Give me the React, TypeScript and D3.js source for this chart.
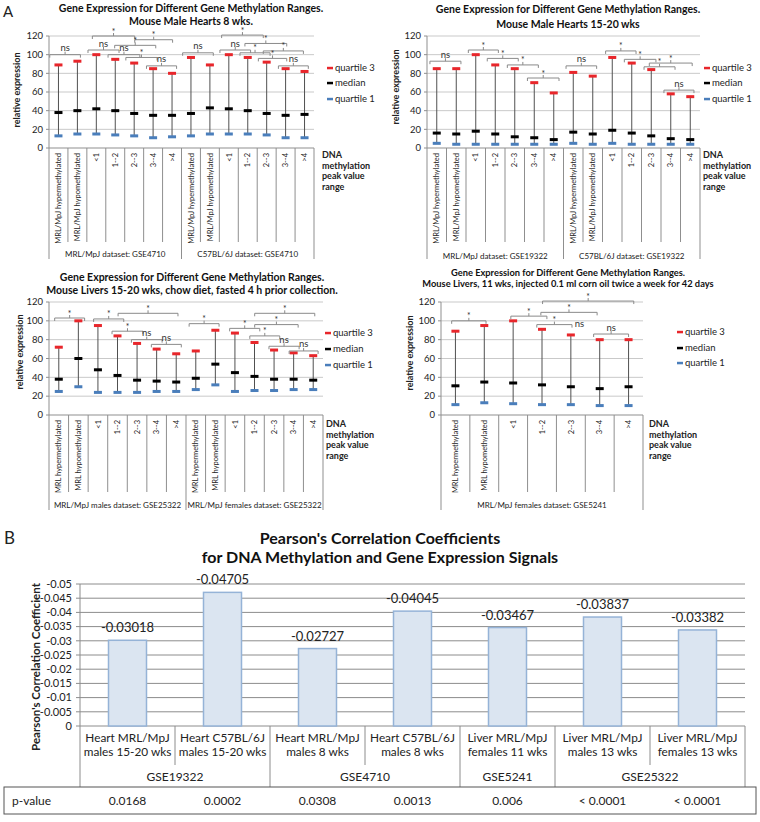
import React from "react";
import * as d3 from "d3";

const FONT = "Lato, 'Open Sans', 'Liberation Sans', sans-serif";

// ---------- Panel A data ----------
const rangeCats = ["<1", "1--2", "2--3", "3--4", ">4"];
const mpjCats = ["MRL/MpJ hypermethylated", "MRL/MpJ hypomethylated", ...rangeCats];
const mrlCats = ["MRL hypermethylated", "MRL hypomethylated", ...rangeCats];

type Sig = [number, number, number, string];

// Mouse Male Hearts 8 wks
const heart8Categories = [...mpjCats, ...mpjCats];
const heart8Groups = ["MRL/MpJ  dataset: GSE4710", "C57BL/6J dataset: GSE4710"];
const heart8GroupSizes = [7, 7];
const heart8Q3 = [89, 93, 100, 95, 91, 85, 80, 97, 89, 100, 97, 92, 85, 82];
const heart8Median = [38, 40, 42, 40, 37, 35, 35, 37, 43, 42, 40, 37, 35, 36];
const heart8Q1 = [13, 15, 15, 14, 13, 11, 12, 13, 15, 15, 15, 14, 11, 11];
const heart8Sig: Sig[] = [
  [0.04, 1.66, 100, "ns"],
  [2.06, 3.7, 105, "ns"],
  [2.29, 4.53, 120, "*"],
  [4.53, 6.53, 116, "*"],
  [3.47, 5.64, 110, "*"],
  [3.12, 4.8, 100, "ns"],
  [4.06, 5.71, 97, "*"],
  [5.15, 6.74, 88, "ns"],
  [7.06, 8.68, 102, "ns"],
  [9.03, 10.65, 105, "ns"],
  [9.12, 11.32, 121, "*"],
  [10.35, 12.56, 112, "*"],
  [10.09, 11.68, 102, "*"],
  [11.32, 13.44, 104, "*"],
  [11.06, 12.56, 96, "*"],
  [12.12, 13.7, 88, "ns"],
];

// Mouse Male Hearts 15-20 wks
const heart15Categories = [...mpjCats, ...mpjCats];
const heart15Groups = ["MRL/MpJ dataset: GSE19322", "C57BL/6J dataset: GSE19322"];
const heart15GroupSizes = [7, 7];
const heart15Q3 = [85, 85, 100, 89, 85, 70, 59, 81, 77, 97, 91, 84, 58, 55];
const heart15Median = [16, 15, 18, 15, 12, 11, 9, 17, 15, 19, 16, 13, 10, 9];
const heart15Q1 = [5, 4, 4, 4, 4, 4, 4, 5, 4, 5, 4, 4, 4, 4];
const heart15Sig: Sig[] = [
  [0.15, 1.74, 93, "ns"],
  [2.12, 3.66, 105, "*"],
  [3.09, 4.68, 96, "*"],
  [4.12, 5.71, 89, "*"],
  [5.15, 6.77, 75, "*"],
  [7.13, 8.7, 88, "ns"],
  [9.16, 10.72, 104, "*"],
  [10.12, 11.74, 95, "*"],
  [11.13, 12.72, 87, "*"],
  [11.4, 13.6, 91, "*"],
  [12.15, 13.69, 62, "ns"],
];

// Mouse Livers 15-20 wks
const liver15Categories = [...mrlCats, ...mrlCats];
const liver15Groups = ["MRL/MpJ males dataset: GSE25322", "MRL/MpJ females dataset: GSE25322"];
const liver15GroupSizes = [7, 7];
const liver15Q3 = [72, 100, 95, 84, 76, 70, 65, 68, 90, 87, 77, 69, 66, 63];
const liver15Median = [38, 60, 48, 42, 37, 36, 35, 39, 54, 45, 41, 38, 38, 37];
const liver15Q1 = [25, 30, 24, 24, 24, 25, 25, 27, 32, 25, 26, 26, 27, 27];
const liver15Sig: Sig[] = [
  [0.29, 1.82, 103, "*"],
  [2.28, 3.82, 102, "*"],
  [3.53, 6.59, 108, "*"],
  [3.22, 4.8, 89, "*"],
  [4.21, 5.78, 80, "ns"],
  [5.23, 6.76, 75, "ns"],
  [7.16, 8.69, 97, "*"],
  [10.51, 13.58, 108, "*"],
  [10.51, 12.73, 96, "*"],
  [9.23, 10.77, 92, "*"],
  [10.26, 11.79, 84, "*"],
  [11.24, 12.78, 73, "ns"],
  [12.27, 13.75, 68, "ns"],
];

// Mouse Livers 11 wks
const liver11Categories = [...mrlCats];
const liver11Groups = ["MRL/MpJ females dataset: GSE5241"];
const liver11GroupSizes = [7];
const liver11Q3 = [89, 95, 100, 91, 85, 80, 80];
const liver11Median = [31, 35, 34, 32, 30, 28, 30];
const liver11Q1 = [11, 13, 12, 11, 11, 10, 10];
const liver11Sig: Sig[] = [
  [0.37, 1.56, 100, "*"],
  [2.42, 3.67, 105, "*"],
  [3.46, 5.41, 109, "*"],
  [3.52, 6.68, 121, "*"],
  [3.32, 4.54, 96, "*"],
  [4.8, 4.8, 97, "ns"],
  [5.29, 6.5, 86, "ns"],
];

const legendLabels = ["quartile 3", "median", "quartile 1"];
const dnaLines = ["DNA", "methylation", "peak value", "range"];

// ---------- Panel B data ----------
const corrLine1 = ["Heart MRL/MpJ", "Heart C57BL/6J", "Heart MRL/MpJ", "Heart C57BL/6J", "Liver MRL/MpJ", "Liver MRL/MpJ", "Liver MRL/MpJ"];
const corrLine2 = ["males 15-20 wks", "males 15-20 wks", "males 8 wks", "males 8 wks", "females 11 wks", "males 13 wks", "females 13 wks"];
const corrValues = [-0.03018, -0.04705, -0.02727, -0.04045, -0.03467, -0.03837, -0.03382];
const corrDatasets = ["GSE19322", "GSE4710", "GSE5241", "GSE25322"];
const corrDatasetSizes = [2, 2, 1, 2];
const corrPValues = ["0.0168", "0.0002", "0.0308", "0.0013", "0.006", "< 0.0001", "< 0.0001"];
const corrTicks = d3.range(0, 11).map((i) => -i * 0.005);

const RED = "#e8262b";
const BLACK = "#000000";
const BLUE = "#4a7ebb";
const GRID = "#c9c9c9";
const AXIS = "#8f8f8f";

type PanelProps = {
  categories: string[];
  groups: string[];
  groupSizes: number[];
  q1: number[];
  median: number[];
  q3: number[];
  sig: Sig[];
  left: number;
  right: number;
  top: number;
  bottom: number;
  title: string[];
  titleX: number;
  titleY: number[];
  titleSize: number;
  legendX: number;
  legendY: number[];
  dnaX: number;
  dnaY: number;
  labelTop: number;
  innerSepBottom: number;
  groupSepBottom: number;
  groupLabelY: number;
  yLabelX: number;
  yLabelY: number;
};

function Panel(p: PanelProps) {
  const n = p.categories.length;
  const x = d3.scaleLinear().domain([0, n]).range([p.left, p.right]);
  const y = d3.scaleLinear().domain([0, 120]).range([p.bottom, p.top]);
  const ticks = d3.range(0, 121, 20);
  const ends2 = Array.from(d3.cumsum(p.groupSizes));
  const starts = [0, ...ends2.slice(0, -1)];
  const boundarySet = new Set<number>([0, ...ends2]);
  const cx = (i: number) => x(i + 0.5);
  const colors = [RED, BLACK, BLUE];
  const series = [p.q3, p.median, p.q1];
  return (
    <g fontFamily={FONT}>
      {p.title.map((t, i) => (
        <text key={"t" + i} x={p.titleX} y={p.titleY[i]} dy="0.35em" textAnchor="middle" fontWeight="bold" fontSize={p.titleSize} fill="#111">
          {t}
        </text>
      ))}
      {ticks.map((t) => (
        <g key={"g" + t}>
          <line x1={p.left} x2={p.right} y1={y(t)} y2={y(t)} stroke={t === 0 ? AXIS : GRID} strokeWidth={1} />
          <line x1={p.left - 3} x2={p.left} y1={y(t)} y2={y(t)} stroke={AXIS} />
          <text x={p.left - 6} y={y(t)} dy="0.35em" textAnchor="end" fontSize={9.5} fill="#222">
            {t}
          </text>
        </g>
      ))}
      <line x1={p.left} x2={p.left} y1={p.top} y2={p.groupSepBottom} stroke={AXIS} />
      {d3.range(1, n + 1).map((k) => (
        <line
          key={"s" + k}
          x1={x(k)}
          x2={x(k)}
          y1={p.bottom}
          y2={boundarySet.has(k) ? p.groupSepBottom : p.innerSepBottom}
          stroke={AXIS}
        />
      ))}
      {p.categories.map((c, i) => (
        <text
          key={"c" + i}
          transform={`translate(${cx(i) + 2.7},${p.labelTop}) rotate(-90)`}
          textAnchor="end"
          fontSize={7.5}
          fill="#222"
        >
          {c}
        </text>
      ))}
      {p.groups.map((g, i) => (
        <text
          key={"gr" + i}
          x={(x(starts[i]) + x(ends2[i])) / 2}
          y={p.groupLabelY}
          dy="0.35em"
          textAnchor="middle"
          fontSize={8}
          fill="#222"
        >
          {g}
        </text>
      ))}
      {p.q3.map((v, i) => (
        <line key={"w" + i} x1={cx(i)} x2={cx(i)} y1={y(p.q1[i])} y2={y(v)} stroke="#505050" strokeWidth={1} />
      ))}
      {series.map((s, si) =>
        s.map((v, i) => (
          <rect key={"m" + si + "-" + i} x={cx(i) - 4} y={y(v) - 1.5} width={8} height={3} fill={colors[si]} />
        ))
      )}
      {p.sig.map(([a, b, v, lab], i) => {
        const x1 = x(a);
        const x2 = x(b);
        const yy = y(v);
        const xm = (x1 + x2) / 2;
        if (a === b) {
          return (
            <text key={"sg" + i} x={x1} y={yy} dy="0.35em" textAnchor="middle" fontSize={9.5} fill="#333">
              {lab}
            </text>
          );
        }
        return (
          <g key={"sg" + i}>
            <path
              d={`M${x1},${yy + 3}V${yy}H${x2}V${yy + 3}M${xm},${yy}V${yy - 3}`}
              fill="none"
              stroke="#8a8a8a"
              strokeWidth={1}
            />
            <text x={xm} y={lab === "*" ? yy - 1.5 : yy - 3.5} textAnchor="middle" fontSize={lab === "*" ? 8.5 : 9.5} fill="#333">
              {lab}
            </text>
          </g>
        );
      })}
      {legendLabels.map((l, i) => (
        <g key={"l" + i}>
          <rect x={p.legendX - 8} y={p.legendY[i] - 1.2} width={6} height={2.5} fill={colors[i]} />
          <text x={p.legendX} y={p.legendY[i]} dy="0.35em" fontSize={9.5} fill="#222">
            {l}
          </text>
        </g>
      ))}
      {dnaLines.map((l, i) => (
        <text key={"d" + i} x={p.dnaX} y={p.dnaY + i * 10.6} dy="0.35em" fontSize={9} fontWeight="bold" fill="#222">
          {l}
        </text>
      ))}
      <text
        transform={`translate(${p.yLabelX},${p.yLabelY}) rotate(-90)`}
        textAnchor="middle"
        dy="0.35em"
        fontSize={9}
        fontWeight="bold"
        fill="#222"
      >
        relative expression
      </text>
    </g>
  );
}

function CorrChart() {
  const n = corrValues.length;
  const left = 80;
  const right = 745;
  const x = d3.scaleBand<number>().domain(d3.range(n)).range([left, right]);
  const y = d3.scaleLinear().domain([0, -0.05]).range([726, 584]);
  const bw = x.bandwidth() * 0.4;
  const ends = Array.from(d3.cumsum(corrDatasetSizes));
  const starts = [0, ...ends.slice(0, -1)];
  const boundarySet = new Set<number>([0, ...ends]);
  const edge = (k: number) => left + k * x.bandwidth();
  const fmt = (v: number) => (v === 0 ? "0" : "-" + Math.abs(v).toFixed(3).replace(/0+$/, ""));
  return (
    <g fontFamily={FONT}>
      <text x={4} y={538} dy="0.35em" fontSize={17} fill="#222">B</text>
      <text x={380} y={538} dy="0.35em" textAnchor="middle" fontSize={16} fontWeight="bold" fill="#111">
        Pearson's Correlation Coefficients
      </text>
      <text x={380} y={557} dy="0.35em" textAnchor="middle" fontSize={16} fontWeight="bold" fill="#111">
        for DNA Methylation and Gene Expression Signals
      </text>
      {corrTicks.map((t, i) => (
        <g key={"ct" + i}>
          <line x1={left} x2={right} y1={y(t)} y2={y(t)} stroke="#8c8c8c" strokeWidth={1} />
          <line x1={left - 4} x2={left} y1={y(t)} y2={y(t)} stroke="#8c8c8c" />
          <text x={left - 8} y={y(t)} dy="0.35em" textAnchor="end" fontSize={11} fill="#222">
            {fmt(t)}
          </text>
        </g>
      ))}
      <line x1={left} x2={left} y1={584} y2={787} stroke="#8c8c8c" />
      {d3.range(1, n + 1).map((k) => (
        <line key={"cs" + k} x1={edge(k)} x2={edge(k)} y1={726} y2={boundarySet.has(k) ? 787 : 765} stroke="#8c8c8c" />
      ))}
      {corrValues.map((v, i) => {
        const c = (x(i) as number) + x.bandwidth() / 2;
        return (
          <g key={"b" + i}>
            <rect x={c - bw / 2} y={y(v)} width={bw} height={y(0) - y(v)} fill="#dbe5f1" stroke="#95b3d7" strokeWidth={1.5} />
            <text x={c} y={y(v) - 8} textAnchor="middle" fontSize={13} fill="#222">
              {v.toFixed(5)}
            </text>
            <text x={c} y={738} dy="0.35em" textAnchor="middle" fontSize={11.8} fill="#222">
              {corrLine1[i]}
            </text>
            <text x={c} y={752} dy="0.35em" textAnchor="middle" fontSize={11.8} fill="#222">
              {corrLine2[i]}
            </text>
            <text x={c} y={801} dy="0.35em" textAnchor="middle" fontSize={12} fill="#222">
              {corrPValues[i]}
            </text>
          </g>
        );
      })}
      {corrDatasets.map((d, i) => (
        <text key={"ds" + i} x={(edge(starts[i]) + edge(ends[i])) / 2} y={777} dy="0.35em" textAnchor="middle" fontSize={12} fill="#222">
          {d}
        </text>
      ))}
      <rect x={4} y={787} width={752} height={27} fill="none" stroke="#555" strokeWidth={1} />
      <text x={12} y={801} dy="0.35em" fontSize={12} fill="#222">p-value</text>
      <text
        transform="translate(36,667) rotate(-90)"
        textAnchor="middle"
        dy="0.35em"
        fontSize={11.5}
        fontWeight="bold"
        fill="#222"
      >
        Pearson's Correlation Coefficient
      </text>
    </g>
  );
}

export default function App() {
  return (
    <svg width={760} height={822} style={{ position: "absolute", left: 0, top: 0, background: "#fff" }}>
      <rect width={760} height={822} fill="#fff" />
      <text x={3} y={12} dy="0.35em" fontFamily={FONT} fontSize={15} fill="#222">A</text>
      <Panel
        categories={heart8Categories}
        groups={heart8Groups}
        groupSizes={heart8GroupSizes}
        q1={heart8Q1}
        median={heart8Median}
        q3={heart8Q3}
        sig={heart8Sig}
        left={49}
        right={314}
        top={36}
        bottom={148}
        title={["Gene Expression for Different Gene Methylation Ranges.", "Mouse Male Hearts 8 wks."]}
        titleX={191}
        titleY={[8, 21.5]}
        titleSize={10.5}
        legendX={335}
        legendY={[68, 83, 99]}
        dnaX={322}
        dnaY={155}
        labelTop={153}
        innerSepBottom={242}
        groupSepBottom={259}
        groupLabelY={254}
        yLabelX={17}
        yLabelY={90}
      />
      <Panel
        categories={heart15Categories}
        groups={heart15Groups}
        groupSizes={heart15GroupSizes}
        q1={heart15Q1}
        median={heart15Median}
        q3={heart15Q3}
        sig={heart15Sig}
        left={427}
        right={700}
        top={36}
        bottom={148}
        title={["Gene Expression for Different Gene Methylation Ranges.", "Mouse Male Hearts 15-20 wks"]}
        titleX={568}
        titleY={[9.5, 24]}
        titleSize={10.5}
        legendX={712}
        legendY={[68, 83, 99]}
        dnaX={703}
        dnaY={155}
        labelTop={153}
        innerSepBottom={242}
        groupSepBottom={259}
        groupLabelY={256}
        yLabelX={396}
        yLabelY={87}
      />
      <Panel
        categories={liver15Categories}
        groups={liver15Groups}
        groupSizes={liver15GroupSizes}
        q1={liver15Q1}
        median={liver15Median}
        q3={liver15Q3}
        sig={liver15Sig}
        left={49}
        right={323}
        top={302}
        bottom={415}
        title={["Gene Expression for Different Gene Methylation Ranges.", "Mouse Livers 15-20 wks, chow diet, fasted 4 h prior collection."]}
        titleX={192}
        titleY={[277, 290]}
        titleSize={10.5}
        legendX={333}
        legendY={[333, 349, 365]}
        dnaX={326}
        dnaY={424}
        labelTop={420}
        innerSepBottom={492}
        groupSepBottom={510}
        groupLabelY={505}
        yLabelX={20}
        yLabelY={352}
      />
      <Panel
        categories={liver11Categories}
        groups={liver11Groups}
        groupSizes={liver11GroupSizes}
        q1={liver11Q1}
        median={liver11Median}
        q3={liver11Q3}
        sig={liver11Sig}
        left={441}
        right={643}
        top={302}
        bottom={415}
        title={["Gene Expression for Different Gene Methylation Ranges.", "Mouse Livers, 11 wks, injected 0.1 ml corn oil twice a week for 42 days"]}
        titleX={568}
        titleY={[272.5, 283.5]}
        titleSize={9.3}
        legendX={685}
        legendY={[332, 348, 363]}
        dnaX={649}
        dnaY={424}
        labelTop={420}
        innerSepBottom={492}
        groupSepBottom={510}
        groupLabelY={505}
        yLabelX={410}
        yLabelY={353}
      />
      <CorrChart />
    </svg>
  );
}
